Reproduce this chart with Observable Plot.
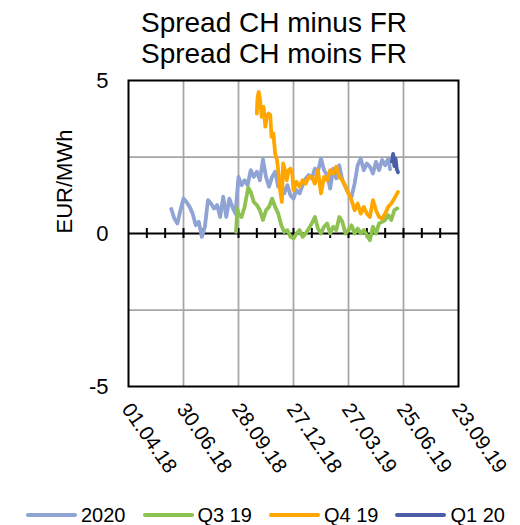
<!DOCTYPE html>
<html>
<head>
<meta charset="utf-8">
<script src="https://cdn.jsdelivr.net/npm/d3@7"></script>
<script src="https://cdn.jsdelivr.net/npm/@observablehq/plot@0.6"></script>
<style>
  html, body { margin: 0; padding: 0; background: #fff; }
  #wrap { position: relative; width: 520px; height: 525px; overflow: hidden;
          font-family: "Liberation Sans", Arial, sans-serif; color: #000; }
  #title { position: absolute; left: 0; top: 7px; width: 548px; text-align: center;
           font-size: 28px; line-height: 31px; }
  #legend { position: absolute; left: 26px; top: 503px; display: flex; gap: 17px;
            font-size: 20px; line-height: 24px; }
  .item { display: flex; align-items: center; gap: 4px; }
  .swatch { width: 51px; height: 4px; border-radius: 2px; }
  #chart { position: absolute; left: 0; top: 0; }
</style>
</head>
<body>
<div id="wrap">
  <div id="chart"></div>
  <div id="title"></div>
  <div id="legend"></div>
</div>
<script>
// ---- data (days counted from 01.04.18) ----
const titleLines = ["Spread CH minus FR", "Spread CH moins FR"];
const yLabel = "EUR/MWh";
const baseDate = "2018-04-01";
const xDomainDays = [0, 540];
const yDomain = [-5, 5];
const yTicks = [-5, 0, 5];
const yGrid = [-2.5, 2.5];
const xTickDays = [0, 90, 180, 270, 360, 450, 540];
const xMinorTickDays = [30, 60, 90, 120, 150, 180, 210, 240, 270, 300, 330, 360, 390, 420, 450, 480, 510];

const seriesNames = ["2020", "Q3 19", "Q4 19", "Q1 20"];
const seriesColors = ["#8FA3D4", "#8DC150", "#FFA700", "#4A5DA6"];

const s2020Days = [70,75,80,85,90,95,100,105,110,115,120,125,130,135,140,145,150,155,160,165,170,175,180,185,190,195,200,205,210,215,220,225,230,235,240,245,250,255,260,265,270,275,280,285,290,295,300,305,310,315,320,325,330,335,340,345,350,355,360,365,370,375,380,385,390,395,400,405,410,415,420,425,428];
const s2020Vals = [0.80,0.49,0.33,0.76,1.14,1.03,0.87,0.65,0.27,0.38,-0.11,0.22,1.09,0.98,0.82,0.93,0.54,1.20,0.54,1.14,0.87,0.65,1.85,1.58,1.74,1.58,2.07,1.85,2.02,1.74,2.42,1.85,1.53,1.85,2.02,1.53,1.63,1.31,1.58,1.25,1.14,1.42,1.31,1.58,1.80,1.91,1.80,2.12,2.02,2.45,2.07,1.91,1.47,2.12,1.80,2.23,1.74,1.53,1.31,1.20,1.63,2.23,2.45,2.07,2.29,2.18,1.96,2.34,2.07,2.40,2.23,2.45,2.10];

const q319Days = [176,178,180,185,190,193,196,200,205,210,215,220,225,230,235,240,245,250,255,260,265,270,275,280,285,290,295,300,305,310,315,320,325,330,335,340,345,350,355,360,365,370,375,380,385,390,395,400,405,410,415,420,425,430,435,440];
const q319Vals = [0.05,0.80,0.65,0.54,0.87,1.20,1.50,1.36,1.03,0.93,0.76,0.44,0.76,0.87,1.14,0.87,0.65,0.27,0.05,0.11,-0.11,-0.16,0.00,0.11,-0.11,0.00,0.16,0.33,0.54,0.16,0.00,0.22,0.33,0.00,0.22,0.11,0.54,0.38,0.00,0.11,0.27,0.00,0.16,0.00,0.11,-0.05,-0.22,0.22,0.00,0.33,0.38,0.44,0.60,0.44,0.76,0.82];

const q419Days = [210,211,213,215,218,221,224,226,229,232,234,237,240,243,245,248,251,253,256,259,262,265,268,270,275,280,285,290,295,300,305,310,315,320,325,330,335,340,345,350,355,360,365,370,375,380,385,390,395,400,405,410,415,420,425,430,435,441];
const q419Vals = [3.92,4.40,4.63,4.41,3.81,4.14,3.49,3.81,3.92,3.87,3.16,3.27,2.61,2.40,2.07,1.42,1.03,2.29,2.07,1.74,2.07,2.12,1.96,1.42,1.69,1.53,1.74,1.63,1.85,1.85,1.63,2.07,1.31,1.85,1.74,2.07,1.96,2.18,1.85,1.74,1.53,1.31,1.09,0.76,0.98,0.65,0.87,0.65,0.54,1.09,0.76,0.54,0.49,0.65,0.87,0.98,1.14,1.36];

const q120Days = [431,433,435,437,439,441];
const q120Vals = [2.35,2.60,2.20,2.45,2.10,2.00];

// ---- build ----
const base = new Date(baseDate + "T00:00:00Z");
const toDate = d => d3.utcDay.offset(base, d);
const fmt = d3.utcFormat("%d.%m.%y");

const allDays = [s2020Days, q319Days, q419Days, q120Days];
const allVals = [s2020Vals, q319Vals, q419Vals, q120Vals];
const rows = [];
seriesNames.forEach((name, k) => {
  allDays[k].forEach((d, i) => rows.push({series: name, date: toDate(d), value: allVals[k][i]}));
});

const xTicks = xTickDays.map(toDate);
const xGrid = xTicks.slice(1, -1);
const xMinor = xMinorTickDays.map(toDate);

const grid = {stroke: "#A6A6A6", strokeWidth: 1.75, strokeOpacity: 1};

const chart = Plot.plot({
  width: 520,
  height: 525,
  marginTop: 80,
  marginBottom: 139,
  marginLeft: 128,
  marginRight: 62,
  style: {fontFamily: "'Liberation Sans', Arial, sans-serif", fontSize: "20px", color: "#000", background: "transparent", overflow: "visible"},
  x: {type: "utc", domain: xDomainDays.map(toDate), axis: null},
  y: {domain: yDomain, axis: null},
  color: {domain: seriesNames, range: seriesColors},
  marks: [
    Plot.gridX(xGrid, grid),
    Plot.gridY(yGrid, grid),
    Plot.frame({stroke: "#000", strokeWidth: 2}),
    Plot.ruleY([0], {stroke: "#000", strokeWidth: 2}),
    Plot.ruleX(xMinor, {y1: 0, y2: 0, insetTop: -5, insetBottom: -5, stroke: "#000", strokeWidth: 2}),
    Plot.axisY({ticks: yTicks, tickSize: 0, tickPadding: 20, fontSize: 22, tickFormat: d => String(d), label: null}),
    Plot.text(xTicks, {x: d => d, frameAnchor: "bottom", text: d => fmt(d), rotate: 55, textAnchor: "start", lineAnchor: "middle", dy: 19, dx: -2, fontSize: 20.5, fill: "#000"}),
    Plot.text([yLabel], {frameAnchor: "left", text: d => d, dx: -64, rotate: -90, fontSize: 22, fill: "#000"}),
    ...seriesNames.map(name => Plot.line(rows.filter(r => r.series === name), {x: "date", y: "value", stroke: "series", strokeWidth: 3.8, strokeLinejoin: "round", strokeLinecap: "round"}))
  ]
});
document.getElementById("chart").appendChild(chart);

document.getElementById("title").innerHTML = titleLines.join("<br>");
const legend = document.getElementById("legend");
seriesNames.forEach((name, k) => {
  const item = document.createElement("div");
  item.className = "item";
  const sw = document.createElement("div");
  sw.className = "swatch";
  sw.style.background = seriesColors[k];
  const tx = document.createElement("span");
  tx.textContent = name;
  item.appendChild(sw);
  item.appendChild(tx);
  legend.appendChild(item);
});
</script>
</body>
</html>
